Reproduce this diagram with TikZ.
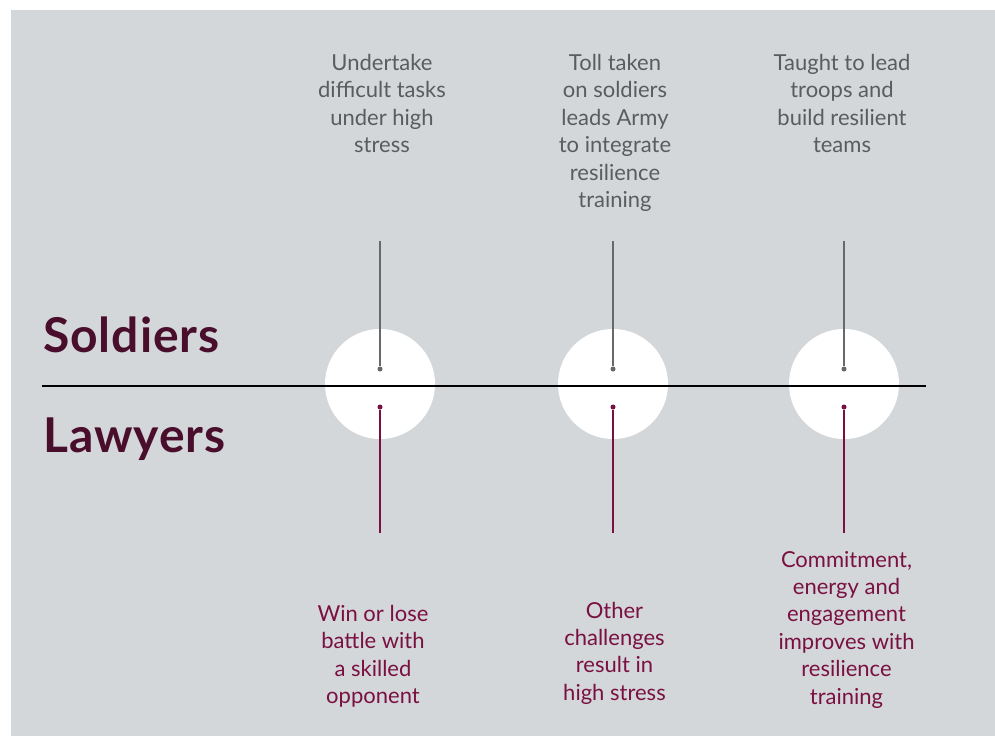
\documentclass[tikz,border=0pt]{standalone}
\usepackage{fontspec}
\setmainfont{Lato}
\usepackage{tikz}
\usetikzlibrary{positioning,calc}
\definecolor{panelgray}{HTML}{D3D7DA}
\definecolor{textgray}{HTML}{5B5C5E}
\definecolor{stemgray}{HTML}{67686A}
\definecolor{titlemaroon}{HTML}{4A0E2D}
\definecolor{lawmaroon}{HTML}{7A1041}

\begin{document}
\begin{tikzpicture}[x=1pt,y=-1pt,
    soldtext/.style={align=center, text=textgray, anchor=base, inner sep=0pt,
        font=\fontsize{22}{27.4}\selectfont},
    lawtext/.style={soldtext, text=lawmaroon},
    heading/.style={anchor=base west, inner sep=0pt, text=titlemaroon,
        font=\fontsize{48}{55}\selectfont\bfseries\addfontfeatures{LetterSpace=2}},
    disc/.style={circle, fill=white, minimum size=110pt, inner sep=0pt},
    dot/.style={circle, fill=#1, minimum size=5pt, inner sep=0pt},
    stem/.style={draw=#1, line width=1.2pt}]

    % Panel
    \useasboundingbox (0,0) rectangle (995,736);
    \fill[panelgray] (11,10) rectangle (995,736);

    % Headings
    \node[heading] (soldiers) at (43,352) {Soldiers};
    \node[heading] (lawyers) at (43,452) {Lawyers};

    % Discs
    \node[disc] (disc1) at (380,384) {};
    \node[disc] (disc2) at (613,384) {};
    \node[disc] (disc3) at (844,384) {};

    % Divider
    \coordinate (divL) at (42,386);
    \coordinate (divR) at (926,386);
    \draw[line width=2.4pt] (divL) -- (divR);

    % Soldiers side (anchored on the last line)
    \node[soldtext] (sold1) at (382,152.7) {Undertake\\difficult tasks\\under high\\stress};
    \node[soldtext] (sold2) at (615,207.5) {Toll taken\\on soldiers\\leads Army\\to integrate\\resilience\\training};
    \node[soldtext] (sold3) at (842,152.7) {Taught to lead\\troops and\\build resilient\\teams};

    \coordinate (top1) at (380,241);
    \coordinate (top2) at (613,241);
    \coordinate (top3) at (844,241);
    \node[dot=stemgray] (sdot1) at (380,369) {};
    \node[dot=stemgray] (sdot2) at (613,369) {};
    \node[dot=stemgray] (sdot3) at (844,369) {};
    \draw[stem=stemgray] (top1) -- (sdot1);
    \draw[stem=stemgray] (top2) -- (sdot2);
    \draw[stem=stemgray] (top3) -- (sdot3);

    % Lawyers side
    \node[dot=lawmaroon] (ldot1) at (380,407) {};
    \node[dot=lawmaroon] (ldot2) at (613,407) {};
    \node[dot=lawmaroon] (ldot3) at (844,407) {};
    \coordinate (bot1) at (380,533);
    \coordinate (bot2) at (613,533);
    \coordinate (bot3) at (844,533);
    \draw[stem=lawmaroon] (ldot1) -- (bot1);
    \draw[stem=lawmaroon] (ldot2) -- (bot2);
    \draw[stem=lawmaroon] (ldot3) -- (bot3);

    \node[lawtext] (law1) at (373,703.7) {Win or lose\\battle with\\a skilled\\opponent};
    \node[lawtext] (law2) at (614.5,700.2) {Other\\challenges\\result in\\high stress};
    \node[lawtext] (law3) at (846.5,704) {Commitment,\\energy and\\engagement\\improves with\\resilience\\training};
\end{tikzpicture}
\end{document}
